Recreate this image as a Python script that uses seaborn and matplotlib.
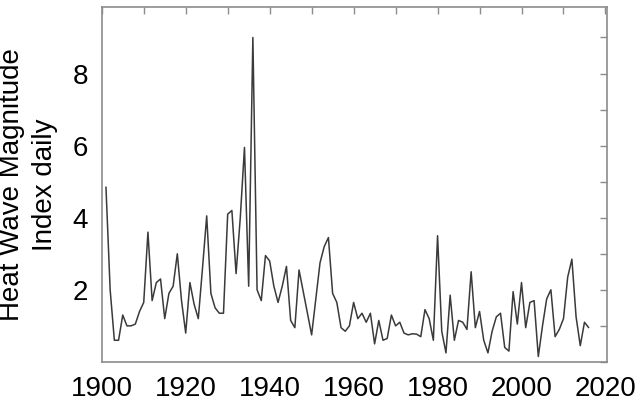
import numpy as np
import pandas as pd
import matplotlib
matplotlib.use("Agg")
import matplotlib.pyplot as plt
from matplotlib.ticker import MultipleLocator
import seaborn as sns

# yearly heat wave magnitude index
years = list(range(1901, 2017))
hwmid = [4.85, 2.0, 0.6, 0.6, 1.3, 1.0, 1.0, 1.05, 1.4, 1.65,   # 1901-1910
         3.6, 1.7, 2.2, 2.3, 1.2, 1.9, 2.1, 3.0, 1.7, 0.8,       # 1911-1920
         2.2, 1.6, 1.2, 2.6, 4.05, 1.9, 1.5, 1.35, 1.35, 4.1,    # 1921-1930
         4.2, 2.45, 4.0, 5.95, 2.1, 9.0, 2.0, 1.7, 2.95, 2.8,    # 1931-1940
         2.1, 1.65, 2.1, 2.65, 1.15, 0.95, 2.55, 1.95, 1.35, 0.75,  # 1941-1950
         1.75, 2.75, 3.2, 3.45, 1.9, 1.65, 0.95, 0.85, 1.0, 1.65,   # 1951-1960
         1.2, 1.35, 1.1, 1.35, 0.5, 1.15, 0.6, 0.65, 1.3, 1.0,      # 1961-1970
         1.1, 0.8, 0.75, 0.78, 0.77, 0.7, 1.45, 1.2, 0.6, 3.5,      # 1971-1980
         0.85, 0.25, 1.85, 0.6, 1.15, 1.1, 0.9, 2.5, 0.95, 1.4,     # 1981-1990
         0.6, 0.25, 0.85, 1.25, 1.35, 0.4, 0.3, 1.95, 1.05, 2.2,    # 1991-2000
         0.95, 1.65, 1.7, 0.15, 1.0, 1.75, 2.0, 0.7, 0.9, 1.2,      # 2001-2010
         2.35, 2.85, 1.25, 0.45, 1.1, 0.95]                          # 2011-2016

df = pd.DataFrame({"year": years, "hwmid": hwmid})

sns.set_style("white")
plt.rcParams["font.family"] = ["Liberation Sans", "DejaVu Sans"]
plt.rcParams["text.color"] = "black"
plt.rcParams["axes.labelcolor"] = "black"

fig = plt.figure(figsize=(6.4, 4.03), dpi=100)
ax = fig.add_axes([0.159, 0.102, 0.789, 0.881])

sns.lineplot(data=df, x="year", y="hwmid", color="#3a3a3a", linewidth=1.1, ax=ax)

ax.set_xlim(1900, 2020.3)
ax.set_ylim(0, 9.85)
ax.xaxis.set_major_locator(MultipleLocator(20))
ax.xaxis.set_minor_locator(MultipleLocator(10))
ax.set_yticks([2, 4, 6, 8])
ax.yaxis.set_minor_locator(MultipleLocator(1))

spine_col = "#8c8c8c"
for s in ax.spines.values():
    s.set_color(spine_col)
    s.set_linewidth(1.2)
ax.tick_params(which="both", direction="in", top=True, right=True,
               length=5, width=1.0, color=spine_col, labelsize=20,
               labelcolor="black")
ax.tick_params(axis="x", pad=10)
ax.tick_params(axis="y", pad=10)

ax.set_xlabel("")
ax.set_ylabel("Heat Wave Magnitude\nIndex daily", fontsize=20,
              linespacing=1.35)
ax.yaxis.set_label_coords(-0.086, 0.5)

fig.savefig("out.png", dpi=100)
